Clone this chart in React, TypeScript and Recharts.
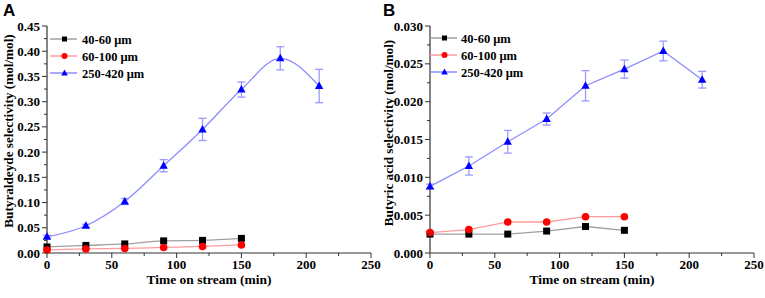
import React from 'react'
import { LineChart, Line, XAxis, YAxis, ErrorBar } from 'recharts'

// time on stream (min)
const times = [0, 30, 60, 90, 120, 150, 180, 210]

// panel A: butyraldehyde selectivity
const aldSmall = [0.012, 0.015, 0.018, 0.024, 0.025, 0.029]
const aldMid = [0.006, 0.008, 0.009, 0.011, 0.013, 0.016]
const aldLarge = [0.032, 0.054, 0.102, 0.173, 0.245, 0.324, 0.386, 0.331]
const aldLargeErr = [0.003, 0.003, 0.006, 0.012, 0.022, 0.015, 0.023, 0.033]

// panel B: butyric acid selectivity
const acidSmall = [0.0025, 0.0025, 0.0025, 0.0029, 0.0035, 0.003]
const acidMid = [0.0027, 0.0031, 0.0041, 0.0041, 0.0048, 0.0048]
const acidLarge = [0.0088, 0.0115, 0.0147, 0.0177, 0.0221, 0.0243, 0.0267, 0.0229]
const acidLargeErr = [0.0003, 0.0012, 0.0015, 0.0008, 0.002, 0.0012, 0.0013, 0.0011]

const seriesNames = ['40-60 μm', '60-100 μm', '250-420 μm']

const xTicks = [0, 25, 50, 75, 100, 125, 150, 175, 200, 225, 250]
const yTicksA = [0, 0.025, 0.05, 0.075, 0.1, 0.125, 0.15, 0.175, 0.2, 0.225, 0.25, 0.275, 0.3, 0.325, 0.35, 0.375, 0.4, 0.425, 0.45]
const yTicksB = [0, 0.0025, 0.005, 0.0075, 0.01, 0.0125, 0.015, 0.0175, 0.02, 0.0225, 0.025, 0.0275, 0.03]

const FONT = '"Liberation Serif", "Times New Roman", serif'
const AXIS = '#333'
const C_SMALL = '#a0a0a0'
const C_MID = '#ff9b9b'
const C_LARGE = '#8c8cff'

function buildRows(s: number[], m: number[], l: number[], e: number[]) {
  return times.map((t, i) => ({ t, s: s[i], m: m[i], l: l[i], e: e[i] }))
}

const rowsA = buildRows(aldSmall, aldMid, aldLarge, aldLargeErr)
const rowsB = buildRows(acidSmall, acidMid, acidLarge, acidLargeErr)

const Square = (p: any) => {
  if (p.cx == null || p.cy == null || p.value == null) return null
  return <rect x={p.cx - 3.5} y={p.cy - 3.5} width={7} height={7} fill="#000" />
}
const Circle = (p: any) => {
  if (p.cx == null || p.cy == null || p.value == null) return null
  return <circle cx={p.cx} cy={p.cy} r={3.8} fill="#f00" />
}
const Tri = (p: any) => {
  if (p.cx == null || p.cy == null || p.value == null) return null
  return <path d={`M${p.cx},${p.cy - 4.5}L${p.cx + 4.2},${p.cy + 3}L${p.cx - 4.2},${p.cy + 3}Z`} fill="#00f" />
}

const XTick = (p: any) => {
  const v = p.payload.value
  const major = v % 50 === 0
  return (
    <g>
      <line x1={p.x} x2={p.x} y1={p.y} y2={p.y + (major ? 5 : 3)} stroke={AXIS} />
      {major && (
        <text x={p.x} y={p.y + 16} textAnchor="middle" fontFamily={FONT} fontWeight="bold" fontSize={13} fill="#000">
          {v}
        </text>
      )}
    </g>
  )
}

const makeYTick = (step: number, digits: number) => (p: any) => {
  const v = p.payload.value
  const major = Math.abs(v / step - Math.round(v / step)) < 1e-6
  return (
    <g>
      <line x1={p.x} x2={p.x - (major ? 5 : 3)} y1={p.y} y2={p.y} stroke={AXIS} />
      {major && (
        <text x={p.x - 7} y={p.y + 4.5} textAnchor="end" fontFamily={FONT} fontWeight="bold" fontSize={13} fill="#000">
          {v.toFixed(digits)}
        </text>
      )}
    </g>
  )
}

function Overlay({ letter, x, y, lineX0, lineX1, textX, yTitle, yTitleY, xTitleX }: any) {
  const rows = [
    { c: C_SMALL, mark: 's' },
    { c: C_MID, mark: 'c' },
    { c: C_LARGE, mark: 't' },
  ]
  const mx = (lineX0 + lineX1) / 2 + 1
  return (
    <g>
      {rows.map((r, i) => {
        const yy = y + i * 17
        return (
          <g key={i}>
            <line x1={lineX0} x2={lineX1} y1={yy} y2={yy} stroke={r.c} strokeWidth={1.5} />
            {r.mark === 's' && <rect x={mx - 2.5} y={yy - 2.5} width={5} height={5} fill="#000" />}
            {r.mark === 'c' && <circle cx={mx} cy={yy} r={3} fill="#f00" />}
            {r.mark === 't' && <path d={`M${mx},${yy - 3.5}L${mx + 3.3},${yy + 2.5}L${mx - 3.3},${yy + 2.5}Z`} fill="#00f" />}
            <text x={textX} y={yy + 4.5} fontFamily={FONT} fontWeight="bold" fontSize={12.5} fill="#000">
              {seriesNames[i]}
            </text>
          </g>
        )
      })}
      <text x={x} y={16} fontFamily='"Liberation Sans", Arial, sans-serif' fontWeight="bold" fontSize={17} fill="#000">
        {letter}
      </text>
      <text
        transform={`translate(${x + 10},${yTitleY}) rotate(-90)`}
        textAnchor="middle"
        fontFamily={FONT}
        fontWeight="bold"
        fontSize={13.2}
        fill="#000"
      >
        {yTitle}
      </text>
      <text x={xTitleX} y={284} textAnchor="middle" fontFamily={FONT} fontWeight="bold" fontSize={13.5} fill="#000">
        Time on stream (min)
      </text>
    </g>
  )
}

function Panel({ rows, yMax, yTicks, yTick, curve, yWidth, width }: any) {
  return (
    <LineChart width={width} height={298} data={rows} margin={{ top: 26, right: 11, left: 0, bottom: 0 }}>
      <XAxis
        dataKey="t"
        type="number"
        domain={[0, 250]}
        ticks={xTicks}
        interval={0}
        tick={<XTick />}
        tickLine={false}
        tickSize={0}
        tickMargin={0}
        axisLine={{ stroke: AXIS, strokeWidth: 1.2 }}
        height={45}
      />
      <XAxis xAxisId="top" orientation="top" dataKey="t" type="number" domain={[0, 250]} tick={false} tickLine={false} height={0} axisLine={{ stroke: AXIS, strokeWidth: 1.2 }} />
      <YAxis
        type="number"
        domain={[0, yMax]}
        ticks={yTicks}
        interval={0}
        tick={yTick}
        tickLine={false}
        tickSize={0}
        tickMargin={0}
        axisLine={{ stroke: AXIS, strokeWidth: 1.2 }}
        width={yWidth}
      />
      <YAxis yAxisId="right" orientation="right" domain={[0, 1]} tick={false} tickLine={false} width={0} axisLine={{ stroke: AXIS, strokeWidth: 1.2 }} />
      <Line dataKey="s" type={curve} stroke={C_SMALL} strokeWidth={1.3} dot={<Square />} activeDot={false} isAnimationActive={false} />
      <Line dataKey="m" type={curve} stroke={C_MID} strokeWidth={1.3} dot={<Circle />} activeDot={false} isAnimationActive={false} />
      <Line dataKey="l" type={curve} stroke={C_LARGE} strokeWidth={1.3} dot={<Tri />} activeDot={false} isAnimationActive={false}>
        <ErrorBar dataKey="e" width={4} stroke="#9a9aff" strokeWidth={1.3} direction="y" />
      </Line>
    </LineChart>
  )
}

export default function App() {
  return (
    <div style={{ position: 'absolute', left: 0, top: 0, width: 765, height: 298, background: '#fff' }}>
      <div style={{ position: 'absolute', left: 0, top: 0 }}>
        <Panel rows={rowsA} yMax={0.45} yTicks={yTicksA} yTick={makeYTick(0.05, 2)} curve="monotone" yWidth={47} width={382} />
      </div>
      <div style={{ position: 'absolute', left: 382, top: 0 }}>
        <Panel rows={rowsB} yMax={0.03} yTicks={yTicksB} yTick={makeYTick(0.005, 3)} curve="linear" yWidth={48} width={383} />
      </div>
      <svg width={765} height={298} style={{ position: 'absolute', left: 0, top: 0, pointerEvents: 'none' }}>
        <Overlay letter="A" x={3} y={39} lineX0={50} lineX1={77} textX={82} yTitle="Butyraldeyde selectivity (mol/mol)" yTitleY={131} xTitleX={209} />
        <Overlay letter="B" x={383} y={38} lineX0={430} lineX1={457} textX={461} yTitle="Butyric acid selectivity (mol/mol)" yTitleY={133} xTitleX={592} />
      </svg>
    </div>
  )
}
